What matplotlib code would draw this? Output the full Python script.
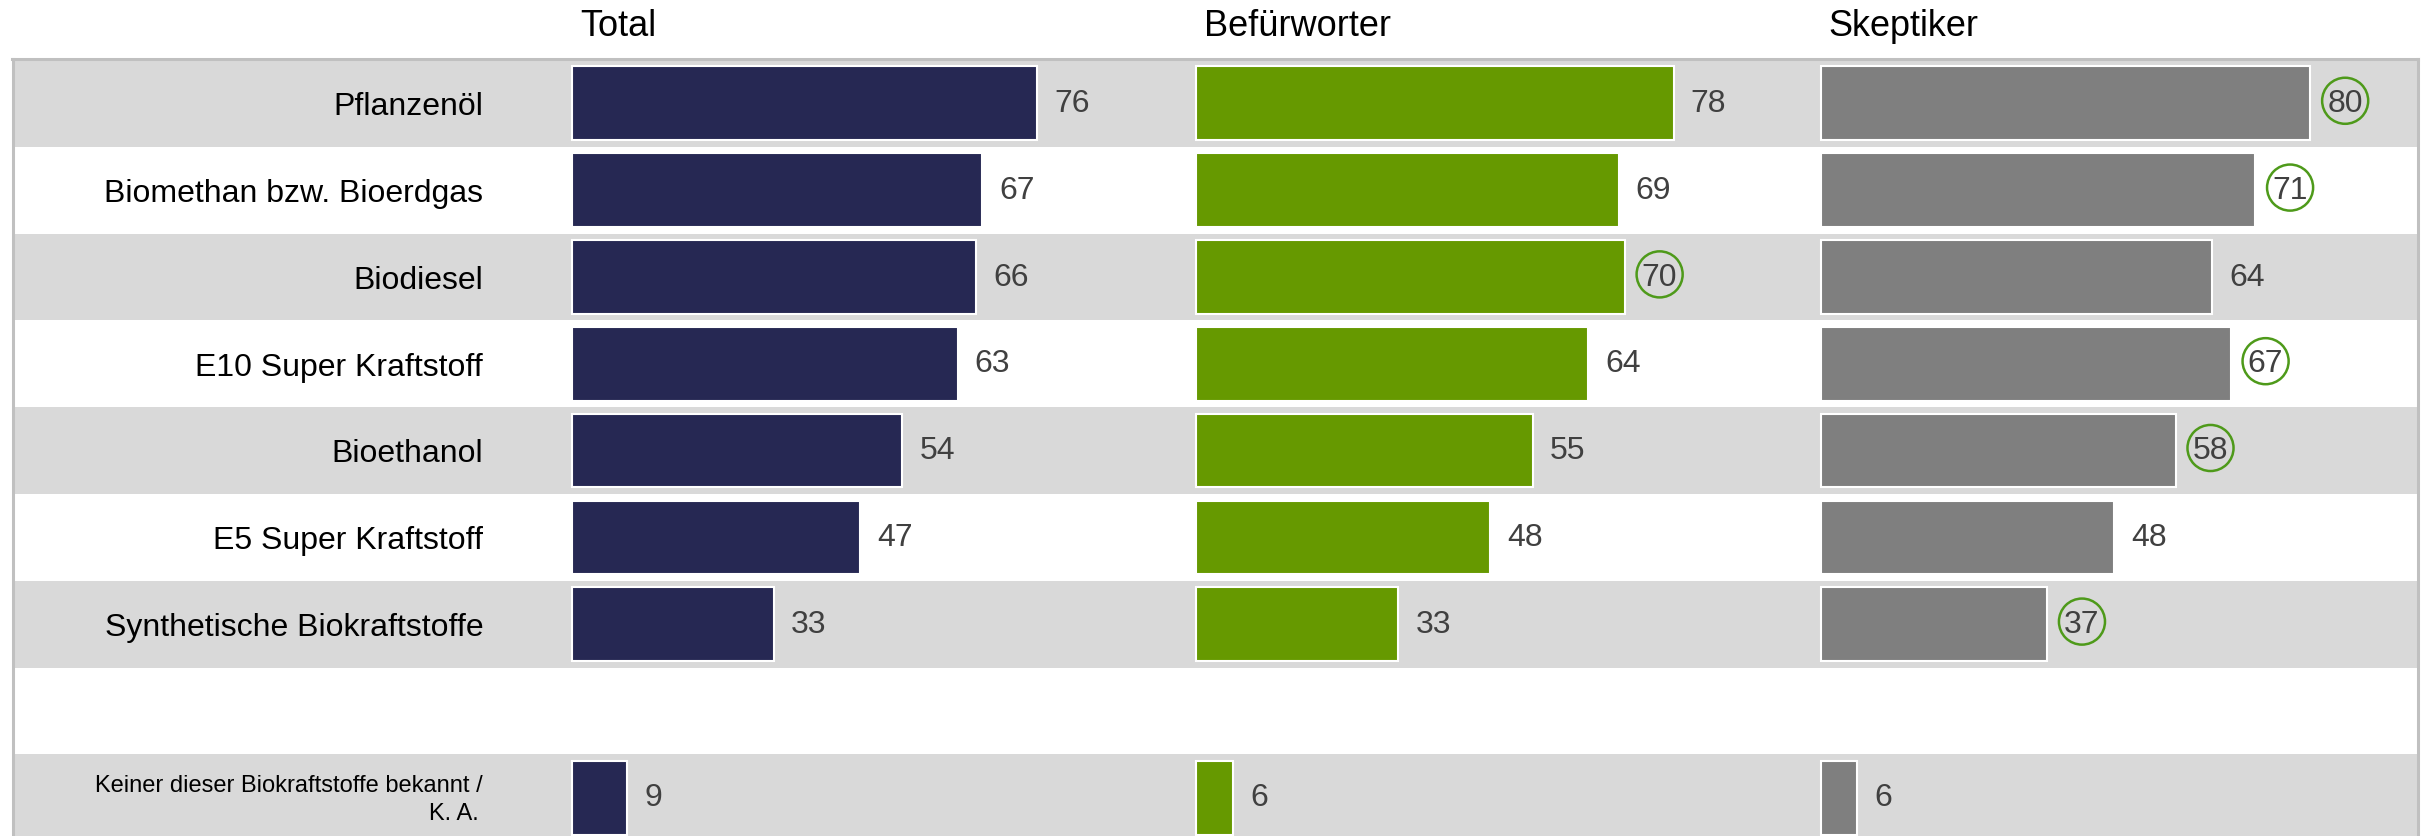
import numpy as np
import matplotlib
matplotlib.use("Agg")
import matplotlib.pyplot as plt

plt.rcParams['font.family'] = ['Liberation Sans', 'DejaVu Sans']

# Daten
kategorien = ["Pflanzenöl", "Biomethan bzw. Bioerdgas", "Biodiesel",
              "E10 Super Kraftstoff", "Bioethanol", "E5 Super Kraftstoff",
              "Synthetische Biokraftstoffe"]
letzte_zeile = ["Keiner dieser Biokraftstoffe bekannt /", "K. A."]
gruppen = ["Total", "Befürworter", "Skeptiker"]

total = [76, 67, 66, 63, 54, 47, 33, 9]
befuerworter = [78, 69, 70, 64, 55, 48, 33, 6]
skeptiker = [80, 71, 64, 67, 58, 48, 37, 6]

# markierte Werte (Kreis)
markiert_total = [False] * 8
markiert_befuerworter = [False, False, True, False, False, False, False, False]
markiert_skeptiker = [True, True, False, True, True, False, True, False]

farben = ["#262853", "#669900", "#7F7F7F"]
kreis_farbe = "#4E9A1A"
grau = "#D9D9D9"

# Zeilen: 0..6 Kategorien, 7 leer, 8 "Keiner..."
zeilen = [0, 1, 2, 3, 4, 5, 6, 8]
offsets = [0, 102, 204]  # Startpunkt jedes Panels

fig = plt.figure(figsize=(24.25, 8.36), dpi=100)
W, H = 2425, 836
ax = fig.add_axes([12.5 / W, 0, (2418 - 12.5) / W, 1 - 58.5 / H])

# Hintergrundstreifen
for i in range(9):
    if i % 2 == 0:
        ax.axhspan(i - 0.5, i + 0.5, color=grau, lw=0, zorder=0)

werte = [total, befuerworter, skeptiker]
markiert = [markiert_total, markiert_befuerworter, markiert_skeptiker]

for g in range(3):
    off = offsets[g]
    ax.barh(zeilen, werte[g], left=off, height=0.85, color=farben[g],
            edgecolor="white", linewidth=1.5, zorder=2)
    for y, v, m in zip(zeilen, werte[g], markiert[g]):
        x = off + v + 2.8
        ax.text(x, y + 0.1, str(v), ha="left", va="baseline", fontsize=23,
                color="#404040", zorder=3)
        if m:
            ax.scatter(off + v + 5.7, y - 0.03, s=1100, facecolors="none",
                       edgecolors=kreis_farbe, linewidths=1.8, zorder=4)
    ax.text(off + 1.3, -0.776, gruppen[g], ha="left", va="baseline",
            fontsize=26, color="black", clip_on=False)

# Kategorien-Beschriftung
for y, k in zip(zeilen[:7], kategorien):
    ax.text(-14.5, y + 0.135, k, ha="right", va="baseline", fontsize=23,
            color="black")

ax.text(-14.5, 8 - 0.066, letzte_zeile[0], ha="right", va="baseline",
        fontsize=17, color="black")
ax.text(-15.3, 8 + 0.256, letzte_zeile[1], ha="right", va="baseline",
        fontsize=17, color="black")

ax.set_xlim(-91.4, 301.6)
ax.set_ylim(8.44, -0.517)
ax.set_xticks([])
ax.set_yticks([])
for s in ["left", "right", "top"]:
    ax.spines[s].set_color("#C0C0C0")
    ax.spines[s].set_linewidth(2.2)
ax.spines["bottom"].set_visible(False)

fig.savefig("out.png", dpi=100)
